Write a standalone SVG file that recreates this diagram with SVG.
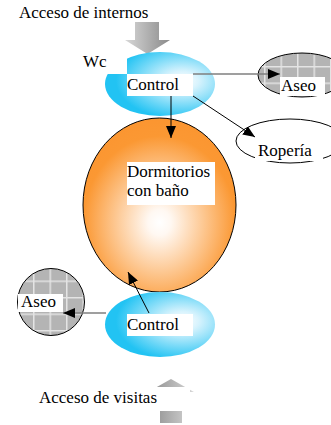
<svg xmlns="http://www.w3.org/2000/svg" width="331" height="425" viewBox="0 0 331 425">
<style>
text{font-family:"Liberation Serif","Times New Roman",serif;font-size:17px;fill:#000}
.box{fill:#fff}
.ln{fill:none;stroke:#000;stroke-width:1}
.lg{fill:none;stroke:#7f7f7f;stroke-width:1.3}
.ol{stroke:#000;stroke-width:1}
</style>
<defs>
<radialGradient id="cyan" cx="0.7" cy="0.45" r="0.6">
<stop offset="0" stop-color="#ffffff"/>
<stop offset="0.25" stop-color="#d8f3fd"/>
<stop offset="1" stop-color="#22c3f3"/>
</radialGradient>
<radialGradient id="orange" cx="0.5" cy="0.6" r="0.62">
<stop offset="0" stop-color="#ffffff"/>
<stop offset="0.12" stop-color="#fff8f2"/>
<stop offset="0.8" stop-color="#fb9833"/>
<stop offset="1" stop-color="#fb9530"/>
</radialGradient>
<linearGradient id="grayDown" x1="0" y1="0" x2="1" y2="0">
<stop offset="0" stop-color="#d8d8d8"/>
<stop offset="1" stop-color="#8a8a8a"/>
</linearGradient>
<linearGradient id="grayUp" x1="0" y1="0" x2="1" y2="0">
<stop offset="0" stop-color="#8a8a8a"/>
<stop offset="1" stop-color="#d8d8d8"/>
</linearGradient>
<pattern id="grid" width="16.5" height="16.5" patternUnits="userSpaceOnUse">
<rect width="16.5" height="16.5" fill="#b4b4b4"/>
<path d="M0 0.5H16.5M0.5 0V16.5" stroke="#e4e4e4" stroke-width="2"/>
</pattern>
<marker id="ah" markerWidth="12" markerHeight="10" refX="12" refY="5" orient="auto" markerUnits="userSpaceOnUse">
<path d="M0 0L12 5L0 10Z" fill="#000"/>
</marker>
</defs>

<g id="acceso-internos">
<polygon points="135,22 159,22 159,40 170,40 147.5,54 125,40 135,40" fill="url(#grayDown)"/>
<text x="19" y="18">Acceso de internos</text>
</g>

<g id="aseo-top">
<ellipse cx="302" cy="75" rx="44" ry="22" fill="url(#grid)" class="ol"/>
<rect class="box" x="280" y="77" width="45" height="19"/>
<text x="281" y="91">Aseo</text>
</g>

<g id="ropería">
<ellipse cx="290" cy="141" rx="54" ry="22" fill="#fff" class="ol"/>
<rect class="box" x="255" y="142" width="68" height="19"/>
<text x="258" y="156">Ropería</text>
</g>

<g id="dormitorios">
<ellipse cx="159.5" cy="205" rx="76.5" ry="87" fill="url(#orange)" class="ol"/>
<rect class="box" x="127" y="162" width="88" height="43"/>
<text x="127" y="177">Dormitorios</text>
<text x="127" y="196">con baño</text>
</g>

<g id="control-top">
<ellipse cx="160" cy="84" rx="55" ry="32" fill="url(#cyan)"/>
<rect class="box" x="82" y="51" width="45" height="23"/>
<text x="83" y="67">Wc</text>
<rect class="box" x="127" y="74" width="66" height="22"/>
<text x="127" y="90">Control</text>
</g>

<g id="aseo-left">
<circle cx="51" cy="302" r="33.5" fill="url(#grid)" class="ol"/>
<rect class="box" x="18" y="294" width="45" height="18"/>
<text x="21" y="307">Aseo</text>
</g>

<g id="control-bottom">
<ellipse cx="160" cy="324.5" rx="55" ry="32.5" fill="url(#cyan)"/>
<rect class="box" x="127" y="314" width="66" height="22"/>
<text x="127" y="330">Control</text>
</g>

<g id="acceso-visitas">
<polygon points="171,379 194,392 182,392 182,423 160,423 160,392 148,392" fill="url(#grayUp)"/>
<rect class="box" x="37" y="387" width="153" height="24"/>
<text x="39" y="403">Acceso de visitas</text>
</g>

<g id="connectors">
<line class="lg" x1="193" y1="74" x2="280" y2="74" marker-end="url(#ah)"/>
<line class="ln" x1="171" y1="96" x2="171" y2="138" marker-end="url(#ah)"/>
<line class="ln" x1="193" y1="96" x2="255" y2="137" marker-end="url(#ah)"/>
<line class="ln" x1="149" y1="313" x2="128" y2="272" marker-end="url(#ah)"/>
<line class="lg" x1="106" y1="313" x2="63" y2="313" marker-end="url(#ah)"/>
</g>
</svg>
